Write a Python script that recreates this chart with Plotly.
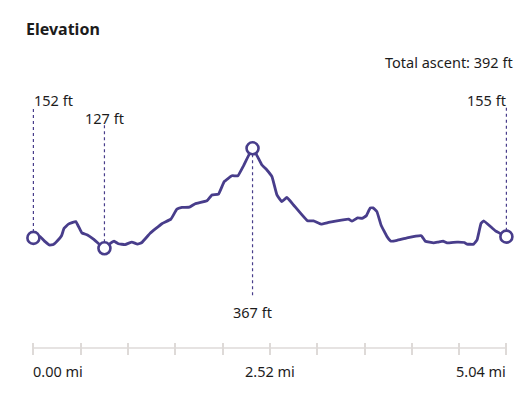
import plotly.graph_objects as go

distance_mi = [0,0.07,0.125,0.17,0.213,0.256,0.30,0.327,0.373,0.452,0.516,0.576,0.64,0.711,0.757,0.81,0.86,0.906,0.978,1.049,1.109,1.156,1.244,1.369,1.465,1.529,1.582,1.663,1.724,1.849,1.902,1.972,2.033,2.115,2.179,2.239,2.335,2.388,2.435,2.488,2.542,2.595,2.648,2.701,2.772,2.921,2.985,3.064,3.145,3.235,3.358,3.395,3.454,3.501,3.547,3.589,3.618,3.66,3.704,3.768,3.811,3.875,3.981,4.134,4.176,4.265,4.315,4.365,4.408,4.514,4.592,4.621,4.691,4.727,4.77,4.798,4.923,5.04]
elevation_ft = [152,155,143,135,136,145,157,175,185,191,164,159,149,135,127,137,144,138,136,142,137,141,163,186,197,221,225,226,234,241,255,257,287,301,301,325,367,347,327,315,299,255,239,249,231,193,193,185,189,193,197,192,200,199,205,224,224,215,183,155,144,146,152,157,144,140,142,144,140,142,141,137,137,147,187,193,169,155]
marker_mi = [0, 0.757, 2.335, 5.04]
marker_ft = [152, 127, 367, 155]
tick_mi = [0,0.504,1.008,1.512,2.016,2.52,3.024,3.528,4.032,4.536,5.04]
label_mi = [0, 2.52, 5.04]
label_text = ["0.00 mi", "2.52 mi", "5.04 mi"]

W, H = 531, 406
PURPLE = "#483d8b"
FONT = "Noto Sans"
TXT = "#1c1c1c"
RULE = "#dedad8"
FT_PER_PX = 2.4
REF_FT, REF_PX = 127, 248.3
px = lambda y: 1 - y / H
ft_at = lambda y: REF_FT + (REF_PX - y) * FT_PER_PX

fig = go.Figure()
fig.add_trace(go.Scatter(x=distance_mi, y=elevation_ft, mode="lines",
                         line=dict(color=PURPLE, width=2.8, shape="spline", smoothing=0.3),
                         hoverinfo="skip"))
fig.add_trace(go.Scatter(x=marker_mi, y=marker_ft, mode="markers", cliponaxis=False,
                         marker=dict(color="white", size=12, line=dict(color=PURPLE, width=2.6)),
                         hoverinfo="skip"))

shapes = [dict(type="line", xref="x", yref="paper", x0=tick_mi[0], x1=tick_mi[-1],
               y0=px(348), y1=px(348), line=dict(color=RULE, width=1.5))]
ends = [106, 124, 298, 106]
for m, f, e in zip(marker_mi, marker_ft, ends):
    shapes.append(dict(type="line", layer="below", xref="x", yref="y", x0=m, x1=m,
                       y0=f, y1=ft_at(e), line=dict(color=PURPLE, width=1.2, dash="dot")))

def ann(text, x, y, xanchor, size=14.5, xref="paper"):
    return dict(text=text, x=x, y=px(y), xref=xref, yref="paper", xanchor=xanchor, yanchor="middle",
                showarrow=False, borderpad=0, borderwidth=0,
                font=dict(family=FONT, size=size, color=TXT))

annotations = [
    ann("<b>Elevation</b>", 26 / W, 29, "left", 16),
    ann("Total ascent: 392 ft", 513 / W, 62, "right"),
    ann("152 ft", 34 / W, 100, "left"),
    ann("127 ft", 85 / W, 118, "left"),
    ann("155 ft", 506 / W, 100, "right"),
    ann("367 ft", 252 / W, 312, "center"),
]
for m, t, a in zip(label_mi, label_text, ["left", "center", "right"]):
    annotations.append(ann(t, m, 371, a, xref="x"))

fig.update_layout(
    width=W, height=H, margin=dict(l=0, r=0, t=0, b=0), showlegend=False,
    paper_bgcolor="white", plot_bgcolor="white", shapes=shapes, annotations=annotations,
    xaxis=dict(range=[-33.4 / 473 * 5.04, 497.6 / 473 * 5.04], tickvals=tick_mi, showticklabels=False,
               ticks="outside", ticklen=12, tickwidth=1.5, tickcolor=RULE,
               showgrid=False, zeroline=False, showline=False,
               anchor="free", position=px(342)),
    yaxis=dict(range=[ft_at(H), ft_at(0)], visible=False),
)
fig.write_html("out.html", config=dict(displayModeBar=False),
               post_script="document.body.style.margin='0';document.documentElement.style.overflow='hidden';")
